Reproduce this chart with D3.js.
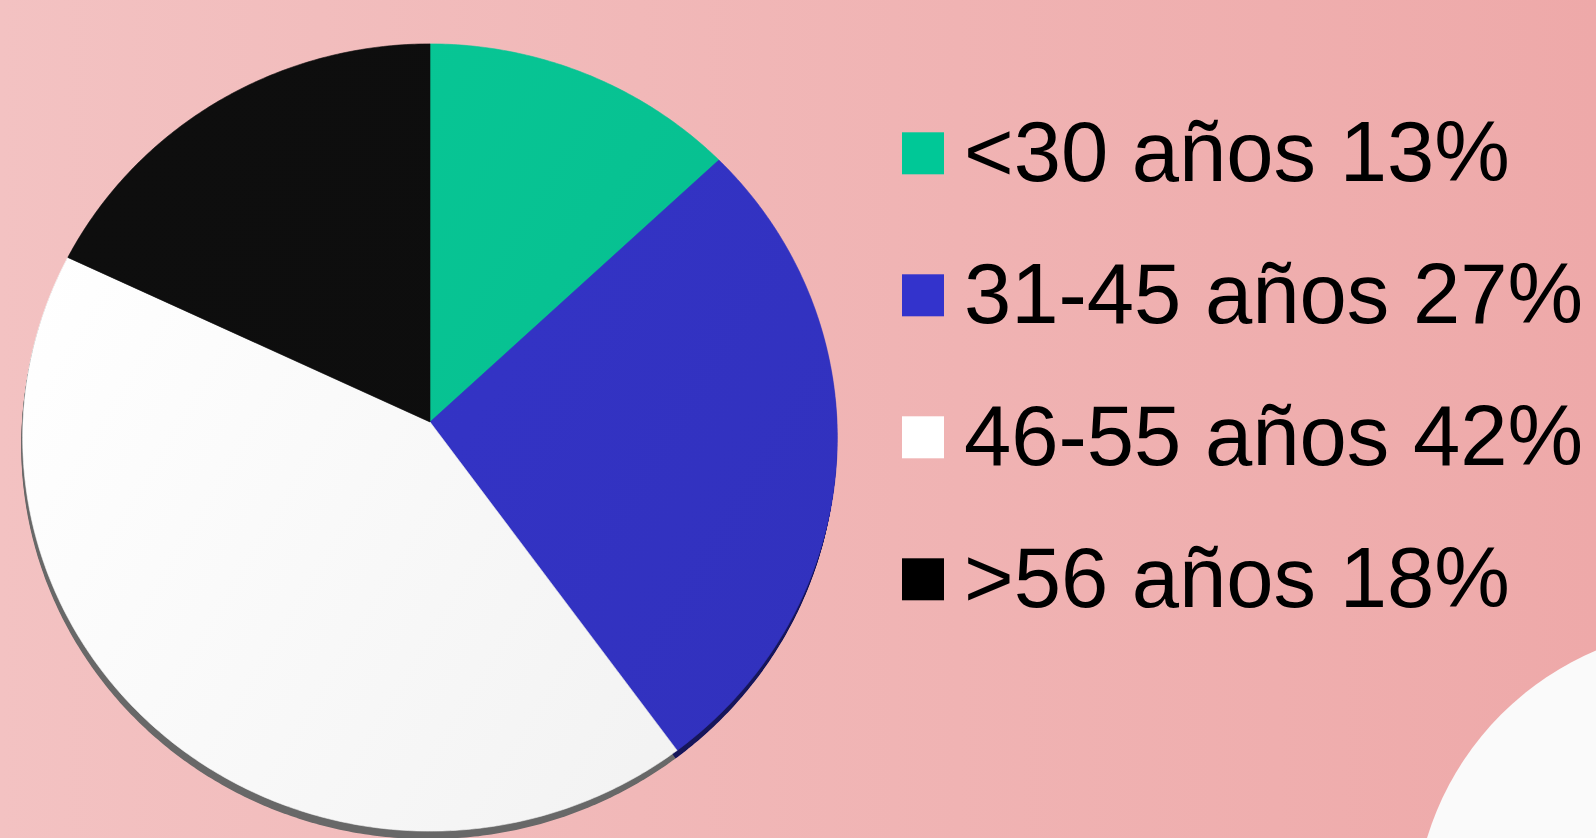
<!DOCTYPE html>
<html>
<head>
<meta charset="utf-8">
<script src="https://cdn.jsdelivr.net/npm/d3@7"></script>
<style>
  html, body { margin: 0; padding: 0; overflow: hidden; }
  svg { display: block; }
</style>
</head>
<body>
<svg id="chart" width="1596" height="838"></svg>
<script>
// Age distribution data
const categories = ["<30 años", "31-45 años", "46-55 años", ">56 años"];
const values = [13, 27, 42, 18];
const sliceColors = ["#07c695", "#3434c8", "#ffffff", "#0e0e0e"];
const sliceShade = ["#05a07a", "#12125a", "#676767", "#050505"];
const legendColors = ["#00c897", "#3333cc", "#ffffff", "#000000"];

const W = 1596, H = 838;
const svg = d3.select("#chart");
const defs = svg.append("defs");

// Pink backdrop with a horizontal fade
const bg = defs.append("linearGradient").attr("id", "bg")
  .attr("x1", 0).attr("y1", 0).attr("x2", 1).attr("y2", 0);
bg.append("stop").attr("offset", 0).attr("stop-color", "#f3c2c2");
bg.append("stop").attr("offset", 1).attr("stop-color", "#eea9a9");
svg.append("rect").attr("width", W).attr("height", H).attr("fill", "url(#bg)");

// Decorative white shape in the lower-right corner
svg.append("circle").attr("cx", 1712).attr("cy", 925).attr("r", 298).attr("fill", "#fafafa");

// Tilted pie: circle points projected with a slight perspective
const cx = 430, cy = 422, sx = 407, sy = 393, k = 0.0394;
function project(a) {
  const u = Math.sin(a), v = -Math.cos(a);
  const w = 1 - k * v;
  return [cx + sx * u / w, cy + sy * v / w];
}

const pie = d3.pie().sort(null).value(d => d)(values);
const line = d3.line();
function slicePath(p) {
  const pts = [[cx, cy]];
  const n = Math.max(8, Math.ceil((p.endAngle - p.startAngle) / 0.01));
  for (let i = 0; i <= n; i++) {
    pts.push(project(p.startAngle + (p.endAngle - p.startAngle) * i / n));
  }
  return line(pts) + "Z";
}

// Light falloff from upper-left to lower-right on each slice
pie.forEach((p, i) => {
  const g = defs.append("linearGradient").attr("id", "sl" + i)
    .attr("gradientUnits", "userSpaceOnUse")
    .attr("x1", 40).attr("y1", 250).attr("x2", 820).attr("y2", 720);
  const c = d3.color(sliceColors[i]);
  g.append("stop").attr("offset", 0).attr("stop-color", c.brighter(0.04));
  g.append("stop").attr("offset", 1).attr("stop-color", c.darker(0.16));
});

const blur = defs.append("filter").attr("id", "soft")
  .attr("x", "-5%").attr("y", "-5%").attr("width", "110%").attr("height", "110%");
blur.append("feGaussianBlur").attr("stdDeviation", 0.5);

// Side wall of the disc, seen below the lower rim
const side = svg.append("g").attr("filter", "url(#soft)");
const depth = 8, lean = -1.5;
for (let s = 1; s <= depth; s++) {
  side.selectAll(null).data(pie).join("path")
    .attr("d", slicePath)
    .attr("transform", `translate(${lean * s / depth},${s})`)
    .attr("fill", (p, i) => sliceShade[i]);
}

// Top face
svg.append("g").selectAll("path").data(pie).join("path")
  .attr("d", slicePath)
  .attr("fill", (p, i) => `url(#sl${i})`)
  .attr("stroke", (p, i) => `url(#sl${i})`)
  .attr("stroke-width", 0.6);

// Legend
const legendY = d3.scalePoint().domain(categories).range([180.7, 606.7]);
const legend = svg.append("g").selectAll("g").data(categories).join("g")
  .attr("transform", d => `translate(0,${legendY(d)})`);
legend.append("rect")
  .attr("x", 902).attr("y", -48.4).attr("width", 42).attr("height", 42)
  .attr("fill", (d, i) => legendColors[i]);
legend.append("text")
  .attr("x", 964).attr("y", 0)
  .attr("font-family", "'Liberation Sans', Arial, sans-serif")
  .attr("font-size", 85)
  .attr("fill", "#000")
  .text((d, i) => `${d} ${values[i]}%`);
</script>
</body>
</html>
